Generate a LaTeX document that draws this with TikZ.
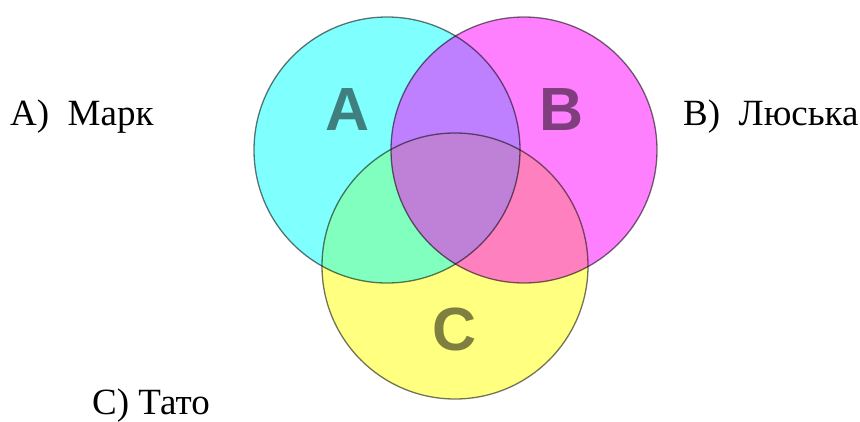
\documentclass[tikz,border=0pt]{standalone}
\usepackage{fontspec}
\setmainfont{Liberation Serif}
\newfontfamily\labelfont{LiberationSerif-Regular.ttf}
\newfontfamily\letterfont{Liberation Sans}
\definecolor{cA}{RGB}{128,255,255}
\definecolor{cB}{RGB}{255,128,255}
\definecolor{cC}{RGB}{255,255,128}
\definecolor{cAB}{RGB}{191,128,255}
\definecolor{cAC}{RGB}{128,255,191}
\definecolor{cBC}{RGB}{255,128,191}
\definecolor{cABC}{RGB}{191,128,216}
\definecolor{tA}{RGB}{63,127,127}
\definecolor{tB}{RGB}{127,63,127}
\definecolor{tC}{RGB}{127,127,63}
\begin{document}
\begin{tikzpicture}[x=1pt,y=-1pt,
  outline/.style={draw=black,draw opacity=0.55,line width=1.3pt},
  setletter/.style={font=\letterfont\bfseries\fontsize{61}{61}\selectfont,inner sep=0pt},
  lbl/.style={font=\labelfont\fontsize{37}{40}\selectfont,inner sep=0pt,anchor=base west}]
\useasboundingbox (0,0) rectangle (860,421);
\def\circA{(387,150) circle[radius=133]}
\def\circB{(524,150) circle[radius=133]}
\def\circC{(455,266) circle[radius=133]}
\fill[cA] \circA;
\fill[cB] \circB;
\fill[cC] \circC;
\begin{scope}\clip \circA; \fill[cAB] \circB; \end{scope}
\begin{scope}\clip \circA; \fill[cAC] \circC; \end{scope}
\begin{scope}\clip \circB; \fill[cBC] \circC; \end{scope}
\begin{scope}\clip \circA; \clip \circB; \fill[cABC] \circC; \end{scope}
\draw[outline] \circA;
\draw[outline] \circB;
\draw[outline] \circC;
\node[setletter,text=tA] (la) at (348,110) {A};
\node[setletter,text=tB] (lb) at (562,110) {B};
\node[setletter,text=tC] (lc) at (455,329) {C};
\node[lbl] (na) at (10,125) {A)\hspace{0.5em}Марк};
\node[lbl] (nb) at (683,125) {B)\hspace{0.5em}Люська};
\node[lbl] (nc) at (92,414) {C) Тато};
\end{tikzpicture}
\end{document}
